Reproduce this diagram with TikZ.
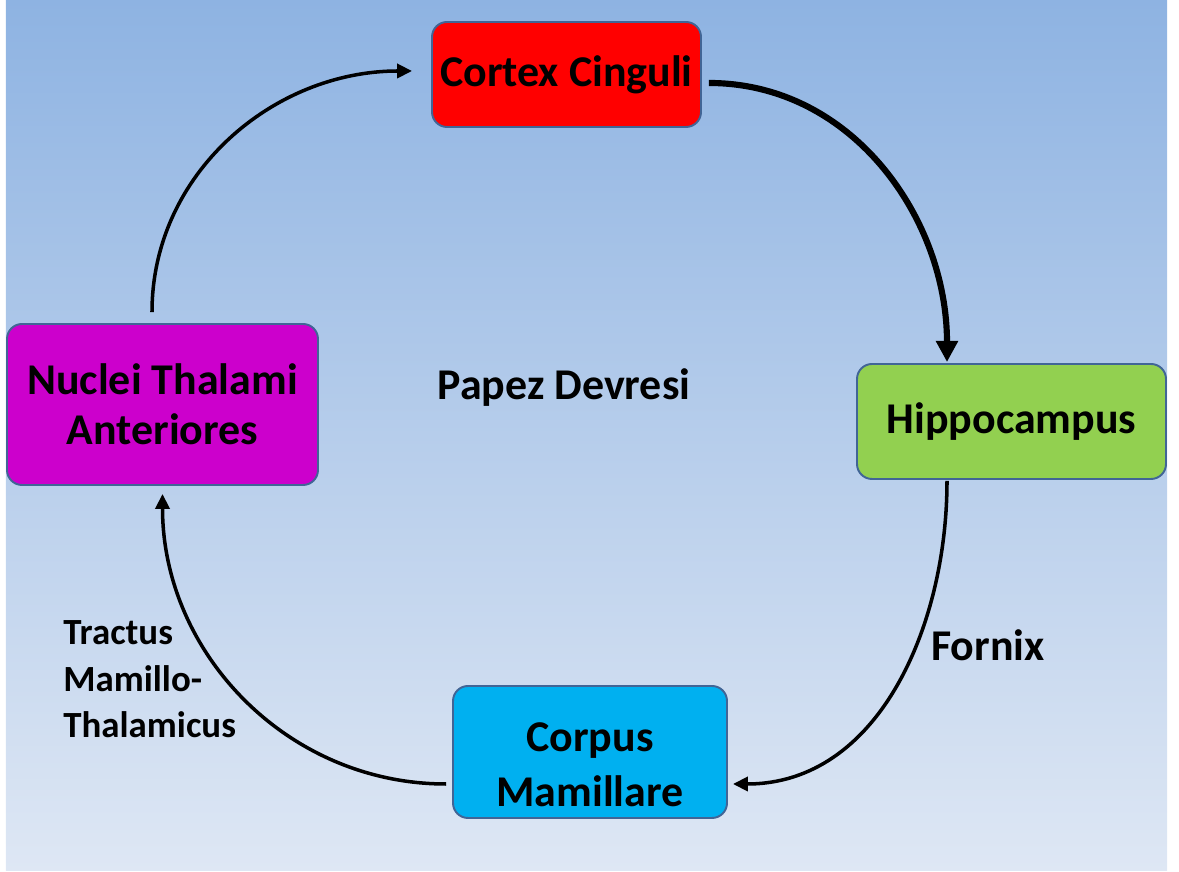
\documentclass[tikz,border=0pt]{standalone}
\usepackage{fontspec}
\setmainfont{Carlito}
\usetikzlibrary{arrows.meta}
\definecolor{bgtop}{RGB}{142,179,226}
\definecolor{bgbottom}{RGB}{222,231,244}
\definecolor{boxline}{RGB}{65,101,150}
\definecolor{cinguli}{RGB}{255,0,0}
\definecolor{hippocol}{RGB}{146,208,80}
\definecolor{thalami}{RGB}{204,0,204}
\definecolor{mamillare}{RGB}{0,176,240}
\begin{document}
\begin{tikzpicture}[
    brainbox/.style={draw=boxline, line width=1.1pt, rounded corners=0.3cm, align=center, inner sep=0pt, font=\bfseries\fontsize{25}{28.5}\selectfont},
    papezarrow/.style={-{Triangle[length=8.5pt,width=8pt]}, line width=2pt},
    ]
    \useasboundingbox (0,0) rectangle (23.58,17.44);
    \shade[top color=bgtop, bottom color=bgbottom] (0.12,0.02) rectangle (23.34,17.44);

    \node(cortex) at (11.33,15.95) [brainbox, fill=cinguli, minimum width=5.38cm, minimum height=2.10cm] {Cortex Cinguli};
    \node(hippo) at (20.23,9.01) [brainbox, fill=hippocol, minimum width=6.18cm, minimum height=2.30cm] {Hippocampus};
    \node(corpus) at (11.80,2.40) [brainbox, fill=mamillare, minimum width=5.48cm, minimum height=2.64cm, font=\bfseries\fontsize{25}{31}\selectfont] {\rule{0pt}{31pt}Corpus\\Mamillare};
    \node(nuclei) at (3.25,9.35) [brainbox, fill=thalami, minimum width=6.22cm, minimum height=3.22cm] {Nuclei Thalami\\Anteriores};

    \node(title) at (11.28,9.44) [anchor=base, font=\bfseries\fontsize{25}{30}\selectfont] {Papez Devresi};
    \node(fornix) at (18.50,4.22) [anchor=base west, font=\bfseries\fontsize{25}{30}\selectfont] {Fornix};
    \node(tractus) at (1.26,2.68) [anchor=base west, align=left, inner sep=0pt, font=\bfseries\fontsize{21}{26.5}\selectfont] {Tractus\\Mamillo-\\Thalamicus};

    \draw[papezarrow] ([shift={(-0.21,0.22)}]nuclei.north) to[out=90, in=180] ([shift={(-0.38,0.07)}]cortex.west);
    \draw[-{Triangle[length=12pt,width=12pt]}, line width=3.5pt] ([shift={(0.14,-0.17)}]cortex.east) to[out=0, in=90] ([shift={(-1.29,0.02)}]hippo.north);
    \draw[papezarrow] ([shift={(-1.29,-0.02)}]hippo.south) to[out=-90, in=0] ([shift={(0.1,-0.64)}]corpus.east);
    \draw[papezarrow] ([shift={(-0.12,-0.64)}]corpus.west) to[out=180, in=-90] ([shift={(0,-0.16)}]nuclei.south);
\end{tikzpicture}
\end{document}
